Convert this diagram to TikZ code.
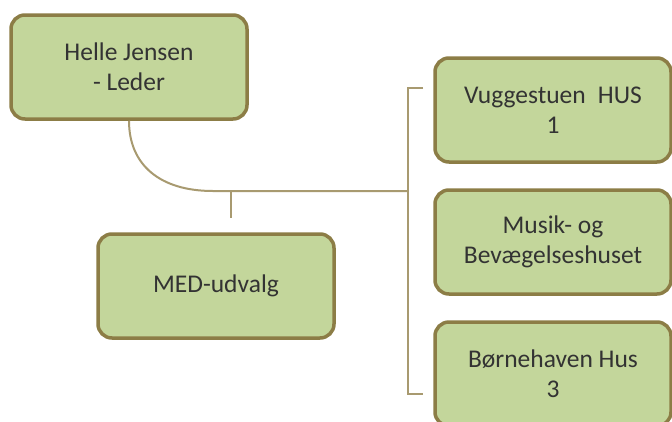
\documentclass[tikz,border=0pt]{standalone}
\usepackage{fontspec}
\setmainfont{Carlito}
\definecolor{boxfill}{HTML}{C3D69B}
\definecolor{boxline}{HTML}{8C7D46}
\definecolor{conn}{HTML}{A89A70}
\definecolor{txt}{HTML}{333333}
\begin{document}
\begin{tikzpicture}[x=1pt,y=-1pt,
  orgbox/.style={draw=boxline, line width=3.5pt, fill=boxfill, rounded corners=14pt,
    minimum width=236pt, minimum height=104pt, align=center, text=txt,
    font=\fontsize{25.5}{30}\selectfont, inner sep=0pt},
  link/.style={draw=conn, line width=2pt}]
\useasboundingbox (0,0) rectangle (672,421);
\clip (0,0) rectangle (672,421);
\fill[white] (0,0) rectangle (672,421);
\node[orgbox] (h) at (129,67) {Helle Jensen\\- Leder};
\node[orgbox] (med) at (216,286) {MED-udvalg};
\node[orgbox] (v1) at (553,110) {Vuggestuen\hspace{0.25em} HUS\\1};
\node[orgbox] (v2) at (553,242) {Musik- og\\Bevægelseshuset};
\node[orgbox] (v3) at (553,374) {Børnehaven Hus\\3};
\coordinate (j) at (231,191);
\coordinate (medstub) at (231,218);
\coordinate (b) at (408,191);
\coordinate (btop) at (408,88);
\coordinate (bbot) at (408,394);
\coordinate (ttop) at (423,88);
\coordinate (tbot) at (423,394);
\draw[link] (h.south) .. controls (129,165) and (160,191) .. (213,191) -- (b);
\draw[link] (j) -- (medstub);
\draw[link] (ttop) -- (btop) -- (bbot) -- (tbot);
\end{tikzpicture}
\end{document}
